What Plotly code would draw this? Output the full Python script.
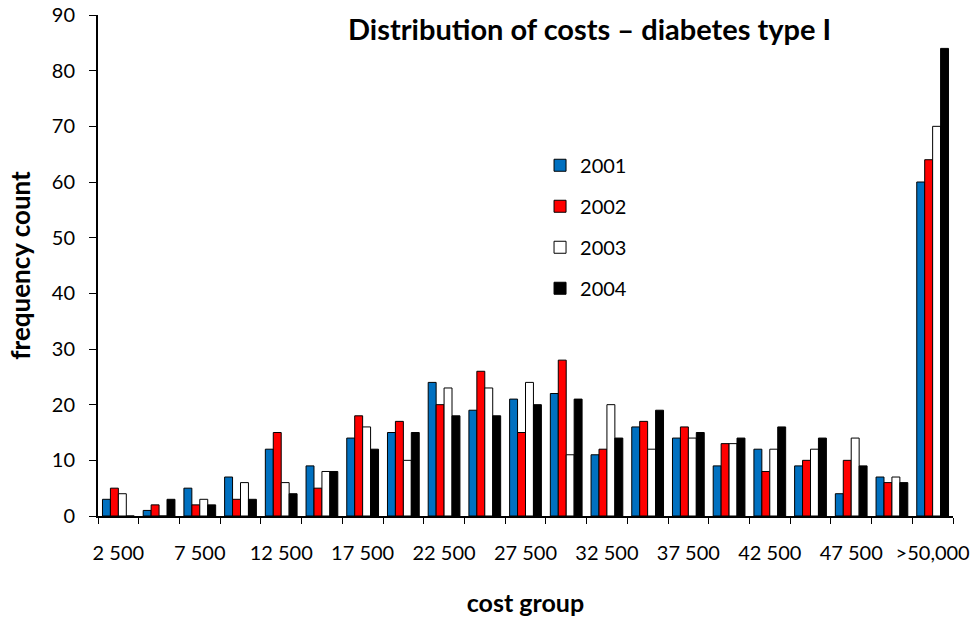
import plotly.graph_objects as go

categories = ["2 500", "5 000", "7 500", "10 000", "12 500", "15 000", "17 500",
              "20 000", "22 500", "25 000", "27 500", "30 000", "32 500", "35 000",
              "37 500", "40 000", "42 500", "45 000", "47 500", "50 000", ">50,000"]
tick_labels = ["2 500", "", "7 500", "", "12 500", "", "17 500", "", "22 500", "",
               "27 500", "", "32 500", "", "37 500", "", "42 500", "", "47 500", "", ">50,000"]

y2001 = [3, 1, 5, 7, 12, 9, 14, 15, 24, 19, 21, 22, 11, 16, 14, 9, 12, 9, 4, 7, 60]
y2002 = [5, 2, 2, 3, 15, 5, 18, 17, 20, 26, 15, 28, 12, 17, 16, 13, 8, 10, 10, 6, 64]
y2003 = [4, 0, 3, 6, 6, 8, 16, 10, 23, 23, 24, 11, 20, 12, 14, 13, 12, 12, 14, 7, 70]
y2004 = [0, 3, 2, 3, 4, 8, 12, 15, 18, 18, 20, 21, 14, 19, 15, 14, 16, 14, 9, 6, 84]

series = [("2001", y2001, "#0070C0"), ("2002", y2002, "#FF0000"),
          ("2003", y2003, "#FFFFFF"), ("2004", y2004, "#000000")]

FONT = "Lato"

fig = go.Figure()
for name, vals, color in series:
    fig.add_trace(go.Bar(
        x=categories, y=vals, name=name, legendgroup=name,
        marker=dict(color=color, line=dict(color="#000000", width=1)),
    ))

fig.update_layout(
    width=976, height=617,
    margin=dict(l=98, r=23, t=15, b=101, autoexpand=False),
    plot_bgcolor="white", paper_bgcolor="white",
    barmode="group", bargap=0.22, bargroupgap=0,
    font=dict(family=FONT, size=20, color="black"),
    title=dict(text="<b>Distribution of costs – diabetes type I</b>",
               font=dict(family=FONT, size=29, color="black"),
               x=0.575, xanchor="center", xref="paper", y=0.951, yanchor="middle"),
    legend=dict(x=0.517, y=0.739, xanchor="left", yanchor="top",
                tracegroupgap=12, font=dict(family=FONT, size=20),
                bgcolor="rgba(0,0,0,0)", itemwidth=30),
    showlegend=True,
)
fig.update_xaxes(
    type="category", tickmode="array", tickvals=categories, ticktext=tick_labels,
    ticks="outside", tickson="boundaries", ticklen=6, tickcolor="black",
    showline=True, linecolor="black", linewidth=2, showgrid=False,
    tickangle=0, tickfont=dict(family=FONT, size=20), ticklabelstandoff=18,
    automargin=False,
    title=dict(text="<b>cost group</b>", font=dict(family=FONT, size=25), standoff=34),
)
fig.update_yaxes(
    range=[0, 90], dtick=10, ticks="outside", ticklen=7, tickcolor="black",
    showline=True, linecolor="black", linewidth=2, showgrid=False, zeroline=False,
    tickfont=dict(family=FONT, size=20), ticklabelstandoff=10, automargin=False,
    title=dict(text="<b>frequency count</b>", font=dict(family=FONT, size=26), standoff=14),
)

fig.write_html("out.html", config={"displayModeBar": False},
               post_script="document.body.style.margin='0px';")
